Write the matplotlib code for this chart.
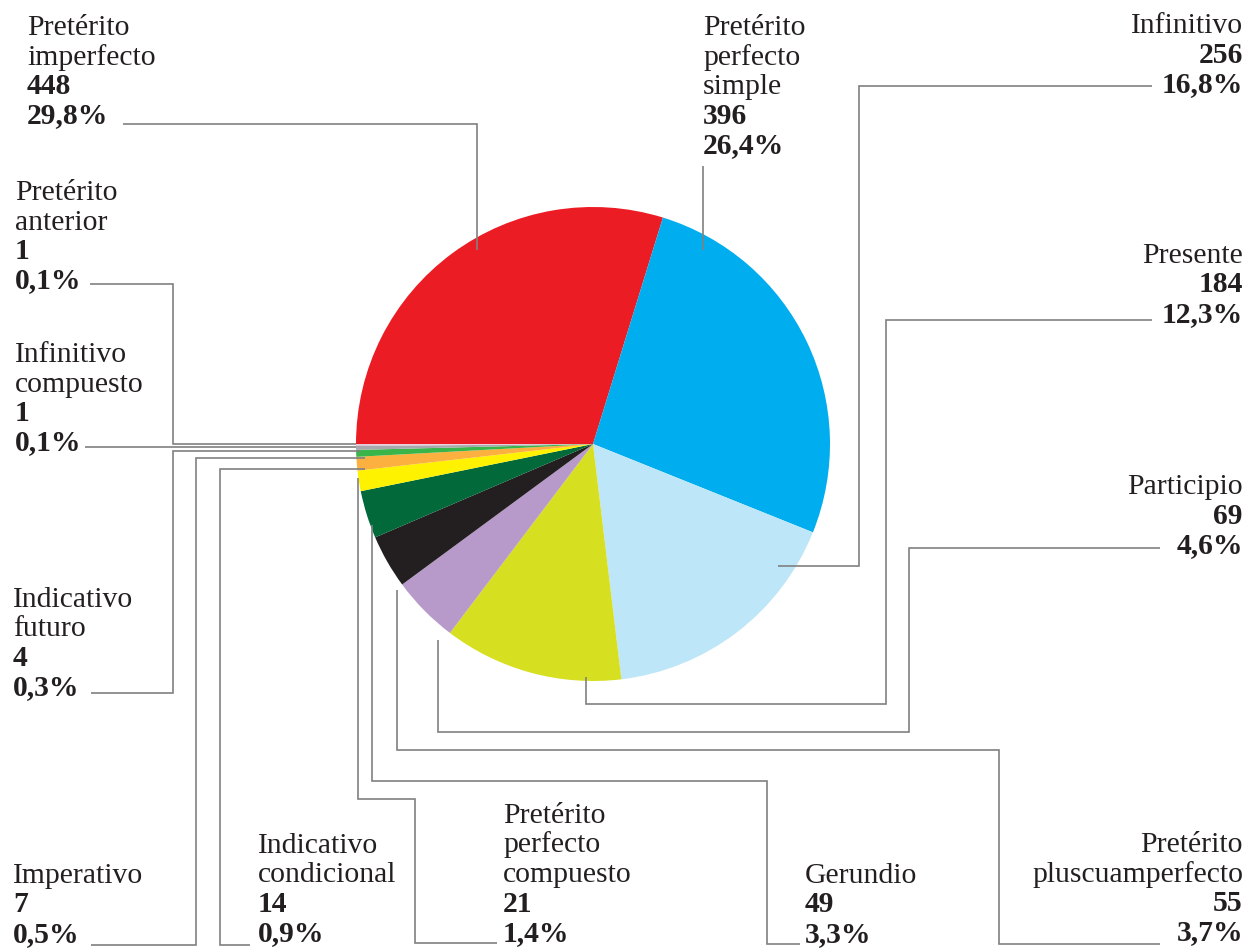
import matplotlib
matplotlib.use("Agg")
import matplotlib.pyplot as plt

plt.rcParams['font.family'] = ['Liberation Serif', 'DejaVu Serif']

# Data
names = [
    "Pretérito\nimperfecto",
    "Pretérito\nperfecto\nsimple",
    "Infinitivo",
    "Presente",
    "Participio",
    "Pretérito\npluscuamperfecto",
    "Gerundio",
    "Pretérito\nperfecto\ncompuesto",
    "Indicativo\ncondicional",
    "Imperativo",
    "Indicativo\nfuturo",
    "Infinitivo\ncompuesto",
    "Pretérito\nanterior",
]
counts = [448, 396, 256, 184, 69, 55, 49, 21, 14, 7, 4, 1, 1]
percents = [29.8, 26.4, 16.8, 12.3, 4.6, 3.7, 3.3, 1.4, 0.9, 0.5, 0.3, 0.1, 0.1]

colors = [
    "#EC1C24", "#00AEEF", "#BEE6F9", "#D7DF21", "#B79ACA", "#231F20",
    "#02693A", "#FFF200", "#FBB040", "#3AB54A", "#A8A9AD", "#D3C3D3", "#EBC9D6",
]

# Layout in pixel space: text anchor x, first baseline y, alignment, leader route
label_x = [27, 703, 1243, 1243, 1243, 1243, 805, 503, 258, 13, 13, 15, 15]
label_y = [35, 35, 33, 263, 494, 852, 883, 823, 853, 883, 607, 362, 200]
label_ha = ["left", "left", "right", "right", "right", "right", "left", "left",
            "left", "left", "left", "left", "left"]
routes = [
    [(123, 124), (477, 124), (477, 250)],
    [(703, 166), (703, 250)],
    [(1152, 86), (859, 86), (859, 566), (778, 566)],
    [(1152, 320), (886, 320), (886, 704), (586, 704), (586, 677)],
    [(1160, 548), (909, 548), (909, 732), (438, 732), (438, 640)],
    [(1160, 944), (999, 944), (999, 750), (397, 750), (397, 590)],
    [(800, 944), (767, 944), (767, 781), (372, 781), (372, 525)],
    [(497, 943), (415, 943), (415, 799), (358, 799), (358, 478)],
    [(250, 945), (220, 945), (220, 469), (365, 469)],
    [(91, 945), (196, 945), (196, 458), (365, 458)],
    [(91, 693), (173, 693), (173, 451), (360, 451)],
    [(85, 447), (356, 447)],
    [(90, 284), (173, 284), (173, 444), (356, 444)],
]

W, H = 1247, 948
fig = plt.figure(figsize=(W / 100, H / 100), dpi=100)
ax = fig.add_axes([0, 0, 1, 1])

ax.pie(counts, colors=colors, startangle=180, counterclock=True,
       center=(593, 444), radius=237, wedgeprops=dict(linewidth=0))
ax.set_xlim(0, W)
ax.set_ylim(H, 0)
ax.set_aspect('equal')
ax.axis('off')

step = 29.5
text_color = "#231F20"
for name, n, p, x, y0, ha, route in zip(names, counts, percents, label_x,
                                        label_y, label_ha, routes):
    lines = name.split("\n")
    rows = [(l, "normal") for l in lines]
    rows += [(str(n), "bold"), (f"{p:.1f}%".replace(".", ","), "bold")]
    for i, (txt, weight) in enumerate(rows):
        ax.text(x, y0 + i * step, txt, ha=ha, va="baseline", fontsize=21.3,
                fontweight=weight, color=text_color)
    xs = [pt[0] for pt in route]
    ys = [pt[1] for pt in route]
    ax.plot(xs, ys, color="#808080", lw=1.2, solid_joinstyle="miter",
            solid_capstyle="butt", zorder=5)

fig.savefig("out.png", dpi=100)
